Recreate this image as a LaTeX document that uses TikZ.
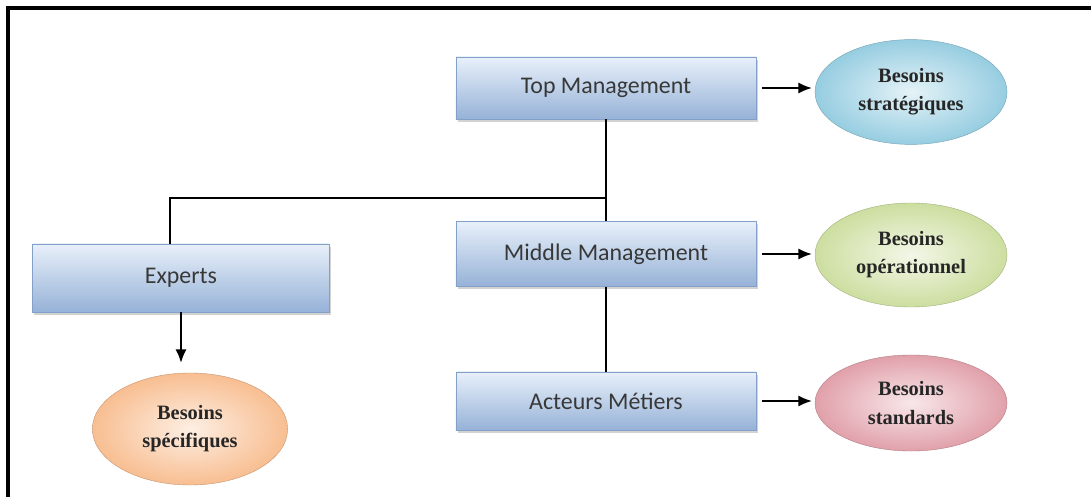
\documentclass[tikz,border=0pt]{standalone}
\usepackage{fontspec}
\setmainfont{Liberation Serif}
\newfontfamily\boxfont{Carlito}
\usetikzlibrary{shapes.geometric,shadows,arrows.meta}
\definecolor{boxtop}{RGB}{232,240,250}
\definecolor{boxbot}{RGB}{150,178,215}
\definecolor{boxline}{RGB}{130,160,200}
\definecolor{ellblue}{RGB}{150,205,225}
\definecolor{ellgreen}{RGB}{205,222,160}
\definecolor{ellpink}{RGB}{225,160,170}
\definecolor{ellorange}{RGB}{248,190,145}
\begin{document}
\begin{tikzpicture}[x=0.025cm,y=-0.025cm,
    niveau/.style={rectangle,draw=boxline,line width=0.4pt,top color=boxtop,bottom color=boxbot,
      minimum width=7.5cm,minimum height=1.55cm,inner sep=0pt,
      drop shadow={shadow xshift=1.2pt,shadow yshift=-2pt,fill=black!35},
      font=\boxfont\fontsize{17}{20}\selectfont,text=black!78},
    besoin/.style={ellipse,draw=#1!80!black,line width=0.3pt,inner color=#1!25!white,outer color=#1,
      minimum width=4.8cm,minimum height=2.6cm,inner sep=0pt,align=center,
      font=\bfseries\fontsize{14.5}{20}\selectfont,text=black!85},
    fleche/.style={-{Latex[length=3.4mm,width=2.8mm]},line width=1.4pt},
    trait/.style={line width=1pt}]
  \useasboundingbox (0,0) rectangle (1091,497);
  % cadre
  \draw[line width=2.2pt] (8,497) -- (8,8) -- (1091,8);
  % niveaux
  \node[niveau] (top) at (606,88) {Top Management};
  \node[niveau,minimum height=1.62cm] (mid) at (606,254) {Middle Management};
  \node[niveau,minimum height=1.45cm] (act) at (606,401) {Acteurs Métiers};
  \node[niveau,minimum width=7.42cm,minimum height=1.7cm] (exp) at (181,278) {Experts};
  % besoins
  \node[besoin=ellblue,minimum height=2.62cm] (strat) at (911,92) {Besoins\\stratégiques};
  \node[besoin=ellgreen] (oper) at (911,255) {Besoins\\opérationnel};
  \node[besoin=ellpink,minimum height=2.4cm] (std) at (911,403) {Besoins\\standards};
  \node[besoin=ellorange,minimum width=4.88cm,minimum height=2.8cm] (spec) at (190,429) {Besoins\\spécifiques};
  % liaisons
  \coordinate (j) at (606,198);
  \coordinate (jx) at (170,198);
  \draw[trait] (top) -- (mid) (mid) -- (act);
  \draw[trait] (j) -- (jx) -- (jx |- exp.north);
  \draw[fleche,shorten <=4pt,shorten >=2pt] (top.east) -- (top.east -| strat.west);
  \draw[fleche,shorten <=4pt,shorten >=2pt] (mid.east) -- (mid.east -| oper.west);
  \draw[fleche,shorten <=4pt,shorten >=2pt] (act.east) -- (act.east -| std.west);
  \draw[fleche,shorten >=7pt] (exp.south) -- (exp.south |- spec.north);
\end{tikzpicture}
\end{document}
